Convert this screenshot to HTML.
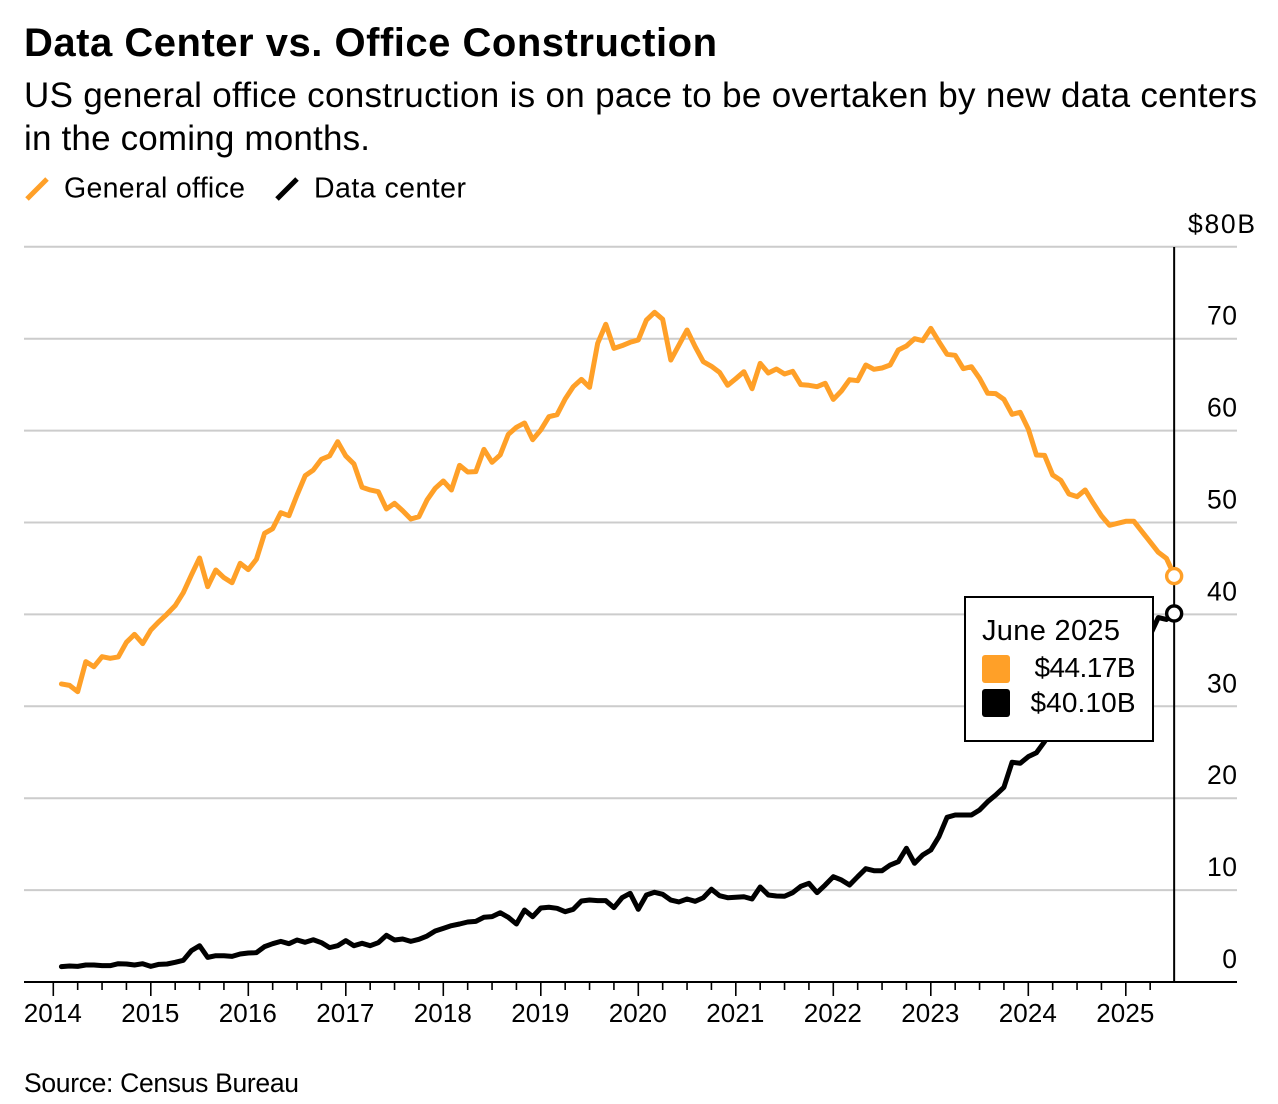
<!DOCTYPE html>
<html lang="en">
<head>
<meta charset="utf-8">
<title>Data Center vs. Office Construction</title>
<style>
html,body{margin:0;padding:0;background:#fff;}
svg{display:block;}
text{font-family:"Liberation Sans",sans-serif;fill:#000;}
</style>
</head>
<body>
<svg id="chart" xmlns="http://www.w3.org/2000/svg" width="1278" height="1104" viewBox="0 0 1278 1104">
  <rect x="0" y="0" width="1278" height="1104" fill="#fff"/>
  <text x="24" y="56" font-size="40" font-weight="700" textLength="693" lengthAdjust="spacing">Data Center vs. Office Construction</text>
  <text x="24" y="107" font-size="35" textLength="1233" lengthAdjust="spacing">US general office construction is on pace to be overtaken by new data centers</text>
  <text x="24" y="150" font-size="35" textLength="346" lengthAdjust="spacing">in the coming months.</text>
  <g>
    <line x1="27" y1="199" x2="47" y2="179" stroke="#ffa028" stroke-width="5"/>
    <text x="64" y="197.5" font-size="28.5" textLength="181" lengthAdjust="spacing">General office</text>
    <line x1="277" y1="199" x2="297" y2="179" stroke="#000" stroke-width="5"/>
    <text x="314" y="197.5" font-size="28.5" textLength="152" lengthAdjust="spacing">Data center</text>
  </g>
  <g id="grid"></g>
  <g id="x-axis"></g>
  <g id="y-axis"></g>
  <g id="series"></g>
  <g id="marker-layer"></g>
  <g>
    <rect x="965" y="597" width="188" height="144" fill="#fff" stroke="#000" stroke-width="2"/>
    <text x="982" y="640" font-size="29" textLength="138" lengthAdjust="spacing">June 2025</text>
    <rect x="982" y="655" width="28" height="28" rx="3" fill="#ffa028"/>
    <text x="1135.5" y="677" font-size="28" text-anchor="end" textLength="101" lengthAdjust="spacing">$44.17B</text>
    <rect x="982" y="689" width="28" height="28" rx="3" fill="#000"/>
    <text x="1135.5" y="712" font-size="28" text-anchor="end" textLength="105" lengthAdjust="spacing">$40.10B</text>
  </g>
  <text x="24" y="1092" font-size="26.5" textLength="275" lengthAdjust="spacing">Source: Census Bureau</text>
</svg>
<script>
const yearLabels = ["2014","2015","2016","2017","2018","2019","2020","2021","2022","2023","2024","2025"];
const yTickValues = [0,10,20,30,40,50,60,70,80];
const generalOffice = [
32.43,32.28,31.59,34.86,34.31,35.40,35.22,35.37,36.96,37.83,36.82,38.30,
39.21,40.04,40.95,42.36,44.29,46.14,43.02,44.83,44.00,43.45,45.56,44.87,
46.00,48.82,49.33,51.07,50.74,52.99,55.09,55.71,56.88,57.24,58.79,57.24,
56.37,53.83,53.54,53.35,51.47,52.09,51.28,50.38,50.63,52.45,53.72,54.52,
53.54,56.22,55.50,55.53,57.96,56.55,57.35,59.59,60.36,60.83,59.01,60.07,
61.51,61.73,63.44,64.78,65.58,64.71,69.50,71.57,68.95,69.24,69.61,69.86,
72.03,72.87,72.11,67.68,69.31,70.95,69.13,67.50,67.00,66.34,64.93,65.65,
66.41,64.56,67.32,66.27,66.70,66.16,66.45,65.00,64.93,64.78,65.15,63.40,
64.31,65.54,65.43,67.14,66.67,66.81,67.14,68.77,69.21,70.00,69.78,71.13,
69.67,68.30,68.19,66.74,66.95,65.69,64.06,64.02,63.40,61.77,61.99,60.17,
57.35,57.31,55.17,54.59,53.10,52.81,53.54,52.09,50.74,49.70,49.91,50.13,
50.13,49.00,47.88,46.76,46.10,44.17];
const dataCenter = [
1.67,1.74,1.70,1.85,1.85,1.78,1.78,1.99,1.96,1.85,1.99,1.70,
1.92,1.96,2.14,2.36,3.41,3.95,2.68,2.86,2.86,2.79,3.05,3.16,
3.19,3.85,4.17,4.42,4.17,4.57,4.32,4.60,4.28,3.74,3.95,4.50,
3.95,4.21,3.95,4.28,5.08,4.57,4.68,4.42,4.64,5.00,5.55,5.84,
6.13,6.31,6.53,6.60,7.04,7.11,7.54,7.04,6.31,7.83,7.11,8.05,
8.13,8.02,7.65,7.91,8.81,8.92,8.85,8.85,8.09,9.17,9.65,7.91,
9.47,9.76,9.54,8.92,8.71,9.03,8.78,9.17,10.09,9.39,9.17,9.22,
9.28,9.03,10.34,9.47,9.36,9.33,9.72,10.41,10.74,9.72,10.55,11.46,
11.10,10.55,11.46,12.33,12.11,12.11,12.73,13.09,14.55,12.92,13.82,14.36,
15.81,17.92,18.17,18.17,18.17,18.72,19.62,20.35,21.19,23.91,23.80,24.52,
24.95,26.15,27.50,28.40,29.20,30.10,31.20,31.90,32.60,33.70,34.60,35.30,
35.90,36.60,37.76,39.65,39.45,40.10];

const SVG_NS = "http://www.w3.org/2000/svg";
const monthsPerYear = 12;
function xScale(monthIndex){ return 53.3 + monthIndex * (97.5 / monthsPerYear); }
function yScale(value){ return 982 - value * 9.19; }
function seriesX(i){ return xScale(i + 1); }
function make(tag, attrs, parent){
  const el = document.createElementNS(SVG_NS, tag);
  for (const k in attrs) el.setAttribute(k, attrs[k]);
  parent.appendChild(el);
  return el;
}

const gridG = document.getElementById("grid");
const xAxisG = document.getElementById("x-axis");
const yAxisG = document.getElementById("y-axis");
const seriesG = document.getElementById("series");
const markerG = document.getElementById("marker-layer");

yTickValues.forEach(function(v){
  if (v === 0) return;
  const g = make("line", {x1:24, x2:1237, y1:yScale(v), y2:yScale(v), stroke:"#cccccc", "stroke-width":2}, gridG);
  
  
});

yTickValues.forEach(function(v){
  const isTop = v === yTickValues[yTickValues.length - 1];
  const t = make("text", {x: isTop ? 1255 : 1237, y: yScale(v) - 14, "font-size":26.5, "text-anchor":"end", textLength: isTop ? 67 : (v === 0 ? 15 : 30), lengthAdjust:"spacing"}, yAxisG);
  t.textContent = isTop ? "$" + v + "B" : String(v);
  
  
});

const axisLine = make("line", {x1:24, x2:1237, y1:982, y2:982, stroke:"#000", "stroke-width":2}, xAxisG);



yearLabels.forEach(function(label, yi){
  const base = yi * monthsPerYear;
  const major = make("line", {x1:xScale(base), x2:xScale(base), y1:982, y2:996, stroke:"#000", "stroke-width":1.6}, xAxisG);
  
  
  [3,6,9].forEach(function(m){
    if (xScale(base + m) > 1160) return;
    const minor = make("line", {x1:xScale(base + m), x2:xScale(base + m), y1:982, y2:990, stroke:"#000", "stroke-width":1.6}, xAxisG);
    
    
  });
  const t = make("text", {x:xScale(base) - 0.5, y:1022, "font-size":26, "text-anchor":"middle", textLength:58, lengthAdjust:"spacing"}, xAxisG);
  t.textContent = label;
  
  
});

function linePath(values){
  return values.map(function(v, i){
    return (i ? "L" : "M") + seriesX(i).toFixed(2) + " " + yScale(v).toFixed(2);
  }).join("");
}

const officeLine = make("path", {d:linePath(generalOffice), fill:"none", stroke:"#ffa028", "stroke-width":5, "stroke-linejoin":"round", "stroke-linecap":"round"}, seriesG);



const dataLine = make("path", {d:linePath(dataCenter), fill:"none", stroke:"#000", "stroke-width":5, "stroke-linejoin":"round", "stroke-linecap":"round"}, seriesG);



const lastIndex = generalOffice.length - 1;
const markerX = seriesX(lastIndex) - 0.4;
const cursor = make("line", {x1:markerX, x2:markerX, y1:247, y2:982, stroke:"#000", "stroke-width":2}, markerG);



const officeDot = make("circle", {cx:markerX, cy:yScale(generalOffice[lastIndex]), r:7.5, fill:"#fff", stroke:"#ffa028", "stroke-width":3.4}, markerG);



const dataDot = make("circle", {cx:markerX, cy:yScale(dataCenter[lastIndex]), r:7.5, fill:"#fff", stroke:"#000", "stroke-width":3.4}, markerG);


</script>
</body>
</html>
